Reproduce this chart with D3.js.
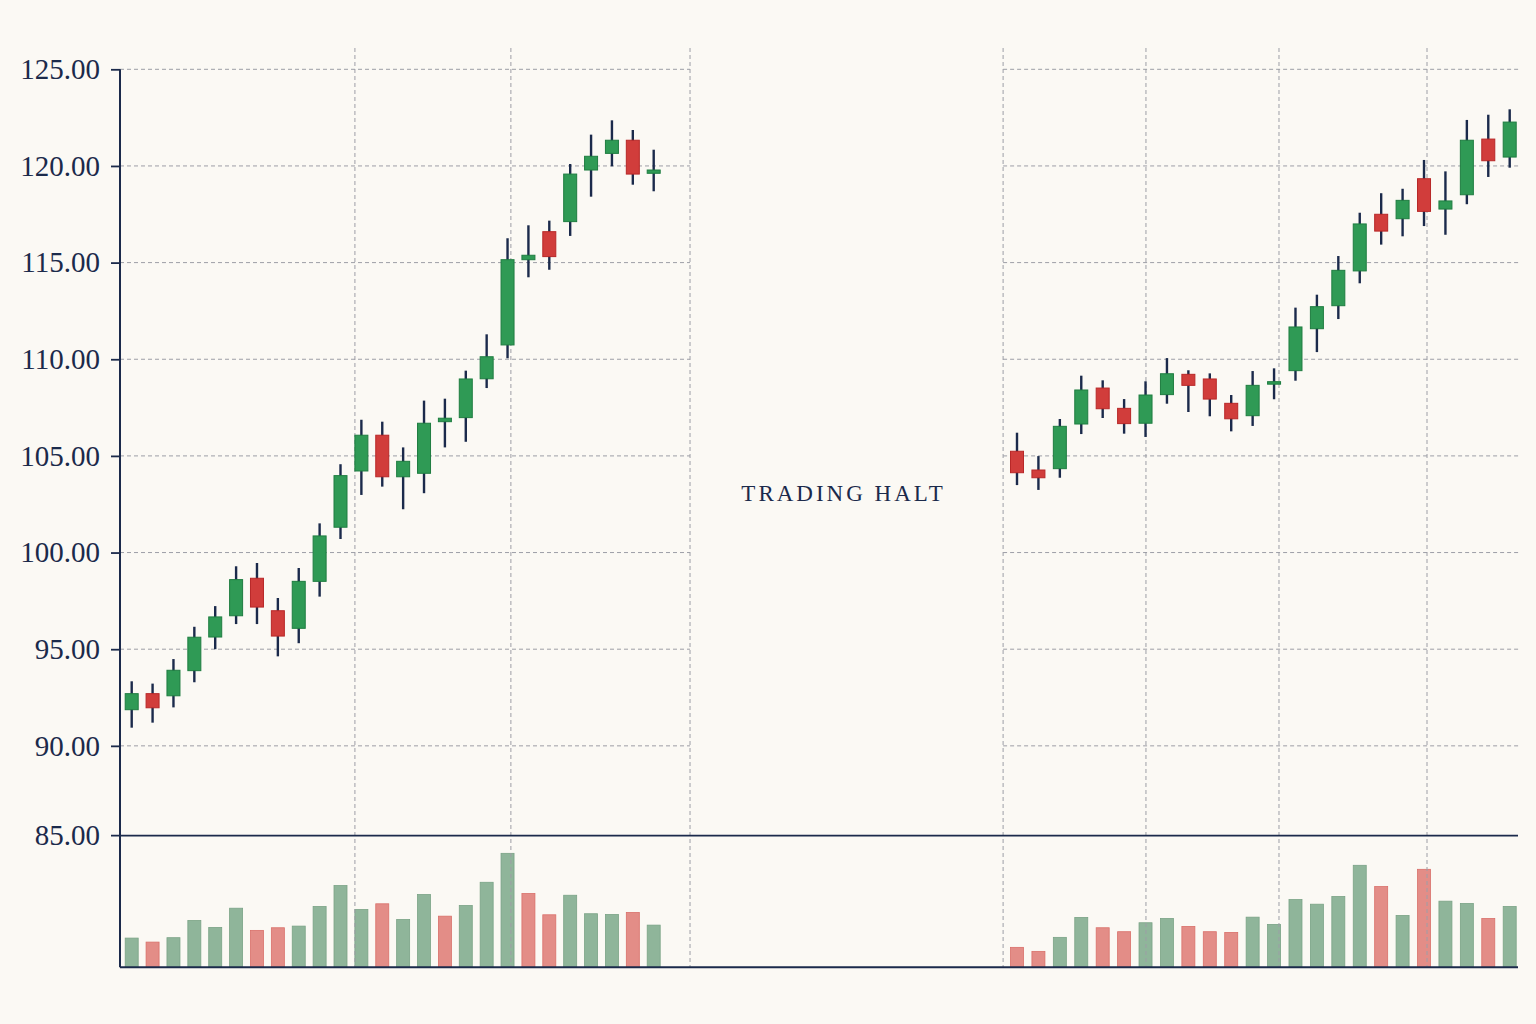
<!DOCTYPE html>
<html>
<head>
<meta charset="utf-8">
<script src="https://cdn.jsdelivr.net/npm/d3@7"></script>
<style>
  html, body { margin: 0; padding: 0; background: #fbf9f4; }
  svg { display: block; }
</style>
</head>
<body>
<svg id="chart" width="1536" height="1024"></svg>
<script>
// ---- Data ----
// Session index: left block 0..25, trading halt, right block 42..65
const days = [
  0,1,2,3,4,5,6,7,8,9,10,11,12,13,14,15,16,17,18,19,20,21,22,23,24,25,
  42,43,44,45,46,47,48,49,50,51,52,53,54,55,56,57,58,59,60,61,62,63,64,65
];
const opens = [
  91.87,92.70,92.59,93.89,95.63,96.73,98.67,96.99,96.08,98.51,101.31,104.22,106.07,103.92,104.10,106.77,106.98,108.99,110.74,115.15,116.60,117.12,119.79,120.65,121.33,119.62,
  105.24,104.27,104.34,106.65,108.51,107.46,106.69,108.17,109.22,108.98,107.72,107.08,108.74,109.41,111.58,112.77,114.57,117.50,117.27,119.34,117.77,118.51,121.39,120.46
];
const highs = [
  93.34,93.22,94.49,96.16,97.23,99.29,99.46,97.65,99.20,101.51,104.57,106.87,106.77,105.44,107.86,107.96,109.41,111.29,116.26,116.93,117.17,120.10,121.62,122.36,121.86,120.84,
  106.20,104.99,106.91,109.15,108.91,107.94,108.86,110.06,109.43,109.27,108.15,109.39,109.53,112.67,113.34,115.34,117.58,118.59,118.82,120.31,119.72,122.38,122.65,122.93
];
const lows = [
  90.94,91.20,91.99,93.29,95.00,96.30,96.30,94.63,95.31,97.72,100.70,102.98,103.41,102.24,103.07,105.44,105.73,108.51,110.05,114.24,114.63,116.38,118.41,119.98,119.03,118.69,
  103.49,103.24,103.87,106.13,106.96,106.15,105.98,107.70,107.27,107.05,106.27,106.55,107.93,108.89,110.37,112.08,113.93,115.93,116.36,116.89,116.44,118.02,119.43,119.91
];
const closes = [
  92.70,91.97,93.91,95.62,96.67,98.60,97.18,95.68,98.51,100.86,103.98,106.07,103.92,104.72,106.69,106.95,108.98,110.13,115.15,115.38,115.31,119.58,120.50,121.33,119.58,119.79,
  104.13,103.87,106.53,108.41,107.44,106.67,108.15,109.25,108.65,107.94,106.92,108.65,108.84,111.67,112.72,114.60,117.00,116.63,118.22,117.65,118.19,121.33,120.27,122.27
];
// volume in thousands
const volumes = [
  444,383,450,712,606,898,561,601,626,924,1242,879,965,727,1106,777,939,1292,1732,1121,798,1095,814,803,833,641,
  303,242,455,758,601,541,677,742,621,541,530,762,652,1030,959,1076,1550,1227,788,1489,1005,970,742,924
];
// volume bar colour as drawn: u = up (green), d = down (red)
const volumeSide = [
  "u","d","u","u","u","u","d","d","u","u","u","u","d","u","u","d","u","u","u","d","d","u","u","u","d","u",
  "d","d","u","u","d","d","u","u","d","d","d","u","u","u","u","u","u","d","u","d","u","u","d","u"
];
const priceTicks = [90, 95, 100, 105, 110, 115, 120, 125];
const priceFloorLabel = 85;              // label on the pane divider
const markerDays = [10.69, 18.16, 26.70, 41.35, 48.02, 54.23, 61.14]; // vertical grid markers
const haltStart = 26.70, haltEnd = 41.35;
const haltLabel = "TRADING HALT";
const haltLabelPrice = 103.1;

// ---- Layout ----
const svg = d3.select("#chart");
const W = 1536, H = 1024;
const left = 120, right = 1521;
const priceTop = 69.3, priceBottom = 842.5;   // 125 .. 85
const volTop = 835.7, volBottom = 967.3;
const gridTop = 48;

const navy = "#1b2a4b";
const gridColor = "#9d9ea6";
const upBody = "#2f9a55", upStroke = "#1f7d41";
const dnBody = "#d13d3b", dnStroke = "#b82828";
const upVol = "#8fb59a", upVolStroke = "#7aa386";
const dnVol = "#e38d87", dnVolStroke = "#d9706a";
const font = "'Liberation Serif', 'DejaVu Serif', 'Times New Roman', serif";
const tickFontSize = 29;

svg.append("rect").attr("width", W).attr("height", H).attr("fill", "#fbf9f4");

const x = d3.scaleLinear()
  .domain([0, 25, 42, 65])
  .range([131.7, 653.7, 1017, 1509.7]);
const y = d3.scaleLinear().domain([85, 125]).range([priceBottom, priceTop]);
const yv = d3.scaleLinear().domain([0, 2000]).range([volBottom, volTop]);

const candles = days.map((d, i) => ({
  day: d, open: opens[i], high: highs[i], low: lows[i], close: closes[i],
  volume: volumes[i], side: volumeSide[i]
}));

// ---- Horizontal grid (skipping the halt region) ----
const gridG = svg.append("g");
const segments = [[left, x(haltStart)], [x(haltEnd), right]];
priceTicks.forEach(t => {
  segments.forEach(([a, b]) => {
    gridG.append("line")
      .attr("x1", a).attr("x2", b)
      .attr("y1", y(t)).attr("y2", y(t))
      .attr("stroke", gridColor).attr("stroke-width", 1)
      .attr("stroke-dasharray", "4,3");
  });
});

// ---- Volume bars ----
const bw = 13;
svg.append("g").selectAll("rect").data(candles).join("rect")
  .attr("x", d => x(d.day) - bw / 2)
  .attr("y", d => yv(d.volume))
  .attr("width", bw)
  .attr("height", d => yv(0) - yv(d.volume))
  .attr("fill", d => d.side === "u" ? upVol : dnVol)
  .attr("stroke", d => d.side === "u" ? upVolStroke : dnVolStroke)
  .attr("stroke-width", 0.8);

// ---- Vertical grid markers (drawn over volume) ----
markerDays.forEach(m => {
  gridG.append("line")
    .attr("x1", x(m)).attr("x2", x(m))
    .attr("y1", gridTop).attr("y2", volBottom)
    .attr("stroke", gridColor).attr("stroke-width", 1)
    .attr("stroke-dasharray", "4,3");
});
gridG.raise();

// ---- Candles ----
const cg = svg.append("g");
const cw = 13;
cg.selectAll("line.wick").data(candles).join("line")
  .attr("class", "wick")
  .attr("x1", d => x(d.day)).attr("x2", d => x(d.day))
  .attr("y1", d => y(d.high)).attr("y2", d => y(d.low))
  .attr("stroke", navy).attr("stroke-width", 2.4);
cg.selectAll("rect.body").data(candles).join("rect")
  .attr("class", "body")
  .attr("x", d => x(d.day) - cw / 2)
  .attr("y", d => y(Math.max(d.open, d.close)))
  .attr("width", cw)
  .attr("height", d => Math.max(2.5, Math.abs(y(d.open) - y(d.close))))
  .attr("fill", d => d.close >= d.open ? upBody : dnBody)
  .attr("stroke", d => d.close >= d.open ? upStroke : dnStroke)
  .attr("stroke-width", 1);

// ---- Axes ----
const axisG = svg.append("g").attr("transform", `translate(${left},0)`)
  .call(d3.axisLeft(y).tickValues(priceTicks).tickFormat(d3.format(".2f")).tickSize(9).tickPadding(11));
axisG.select(".domain").remove();
axisG.selectAll(".tick line").attr("stroke", navy).attr("stroke-width", 1.8);
axisG.selectAll(".tick text").attr("fill", navy).attr("font-family", font).attr("font-size", tickFontSize);

// vertical axis line through both panes
svg.append("line")
  .attr("x1", left).attr("x2", left).attr("y1", priceTop).attr("y2", volBottom)
  .attr("stroke", navy).attr("stroke-width", 2);
// pane divider with floor label
svg.append("line")
  .attr("x1", left - 9).attr("x2", right - 3).attr("y1", volTop).attr("y2", volTop)
  .attr("stroke", navy).attr("stroke-width", 1.8);
svg.append("text")
  .attr("x", left - 20).attr("y", volTop).attr("dy", "0.32em")
  .attr("text-anchor", "end").attr("fill", navy)
  .attr("font-family", font).attr("font-size", tickFontSize)
  .text(d3.format(".2f")(priceFloorLabel));
// bottom axis line
svg.append("line")
  .attr("x1", left).attr("x2", right - 3).attr("y1", volBottom).attr("y2", volBottom)
  .attr("stroke", navy).attr("stroke-width", 2);

// ---- Halt label ----
svg.append("text")
  .attr("x", (x(haltStart) + x(haltEnd)) / 2 - 3)
  .attr("y", y(haltLabelPrice)).attr("dy", "0.35em")
  .attr("text-anchor", "middle")
  .attr("fill", navy).attr("font-family", font).attr("font-size", 23)
  .attr("letter-spacing", "3px")
  .text(haltLabel);
</script>
</body>
</html>
